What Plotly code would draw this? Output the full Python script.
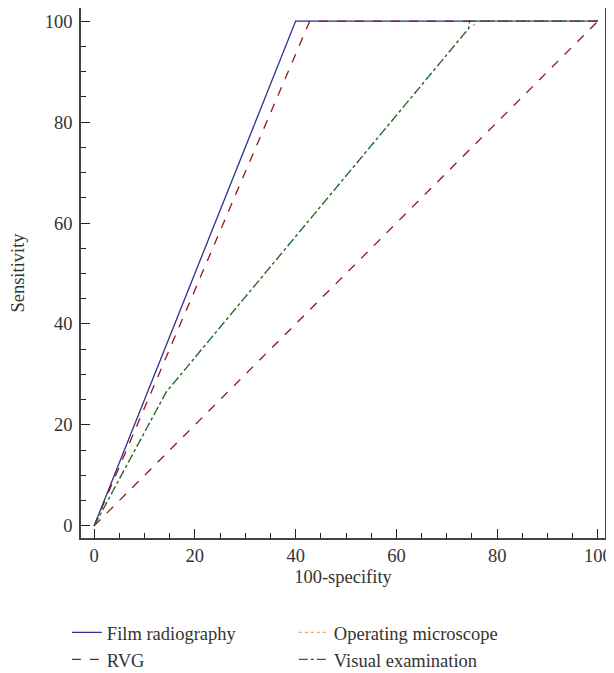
import plotly.graph_objects as go

# ROC curves
film_x = [0, 40, 100]
film_y = [0, 100, 100]

rvg_x = [0, 41.3, 42.8, 100]
rvg_y = [0, 96.5, 100, 100]

micro_x = [0, 14.3, 74.3, 76.5, 100]
micro_y = [0, 26.5, 98.5, 100, 100]

visual_x = [0, 14.3, 74.3, 74.5, 100]
visual_y = [0, 26.5, 98.5, 100, 100]

diag_x = [0, 100]
diag_y = [0, 100]

font = "Liberation Serif"
ink = "#333333"
fsize = 18.5

fig = go.Figure()
fig.add_trace(go.Scatter(x=diag_x, y=diag_y, mode="lines", showlegend=False,
                         line=dict(color="#8b1a1a", width=1.3, dash="dash")))
fig.add_trace(go.Scatter(x=film_x, y=film_y, mode="lines", name="Film radiography",
                         line=dict(color="#2b2f8f", width=1.3)))
fig.add_trace(go.Scatter(x=micro_x, y=micro_y, mode="lines", name="Operating microscope",
                         line=dict(color="#f4a261", width=1.3, dash="dot")))
fig.add_trace(go.Scatter(x=rvg_x, y=rvg_y, mode="lines", name="RVG",
                         line=dict(color="#8b1a1a", width=1.3, dash="dash")))
fig.add_trace(go.Scatter(x=visual_x, y=visual_y, mode="lines", name="Visual examination",
                         line=dict(color="#1a6b35", width=1.3, dash="dashdot")))

axis_common = dict(
    showgrid=False, zeroline=False,
    showline=True, linecolor="#444444", linewidth=1.5, mirror=True,
    ticks="inside", ticklen=9, tickwidth=1.3, tickcolor="#222222",
    tickfont=dict(family=font, size=fsize, color=ink),
    minor=dict(ticks="inside", ticklen=5, tickwidth=1.3, tickcolor="#222222", dtick=5),
)

fig.update_xaxes(range=[-2.6, 101.4], dtick=20, ticklabelstandoff=0, **axis_common,
                 title=dict(text="100-specifity", font=dict(family=font, size=fsize, color=ink), standoff=5))
fig.update_yaxes(range=[-2.4, 102.6], dtick=20, ticklabelstandoff=3, **axis_common,
                 title=dict(text="Sensitivity", font=dict(family=font, size=fsize, color=ink), standoff=16))

# page body adds an 8px margin, so the figure is 8px smaller
fig.update_layout(
    width=606, height=665,
    margin=dict(l=73, r=9, t=0, b=135, autoexpand=False),
    paper_bgcolor="white", plot_bgcolor="white",
    font=dict(family=font, size=fsize, color=ink),
    legend=dict(orientation="h", x=-0.027, xanchor="left", y=-0.143, yanchor="top",
                entrywidth=182, entrywidthmode="pixels",
                font=dict(family=font, size=fsize, color=ink), tracegroupgap=0),
)

fig.write_html("out.html")
